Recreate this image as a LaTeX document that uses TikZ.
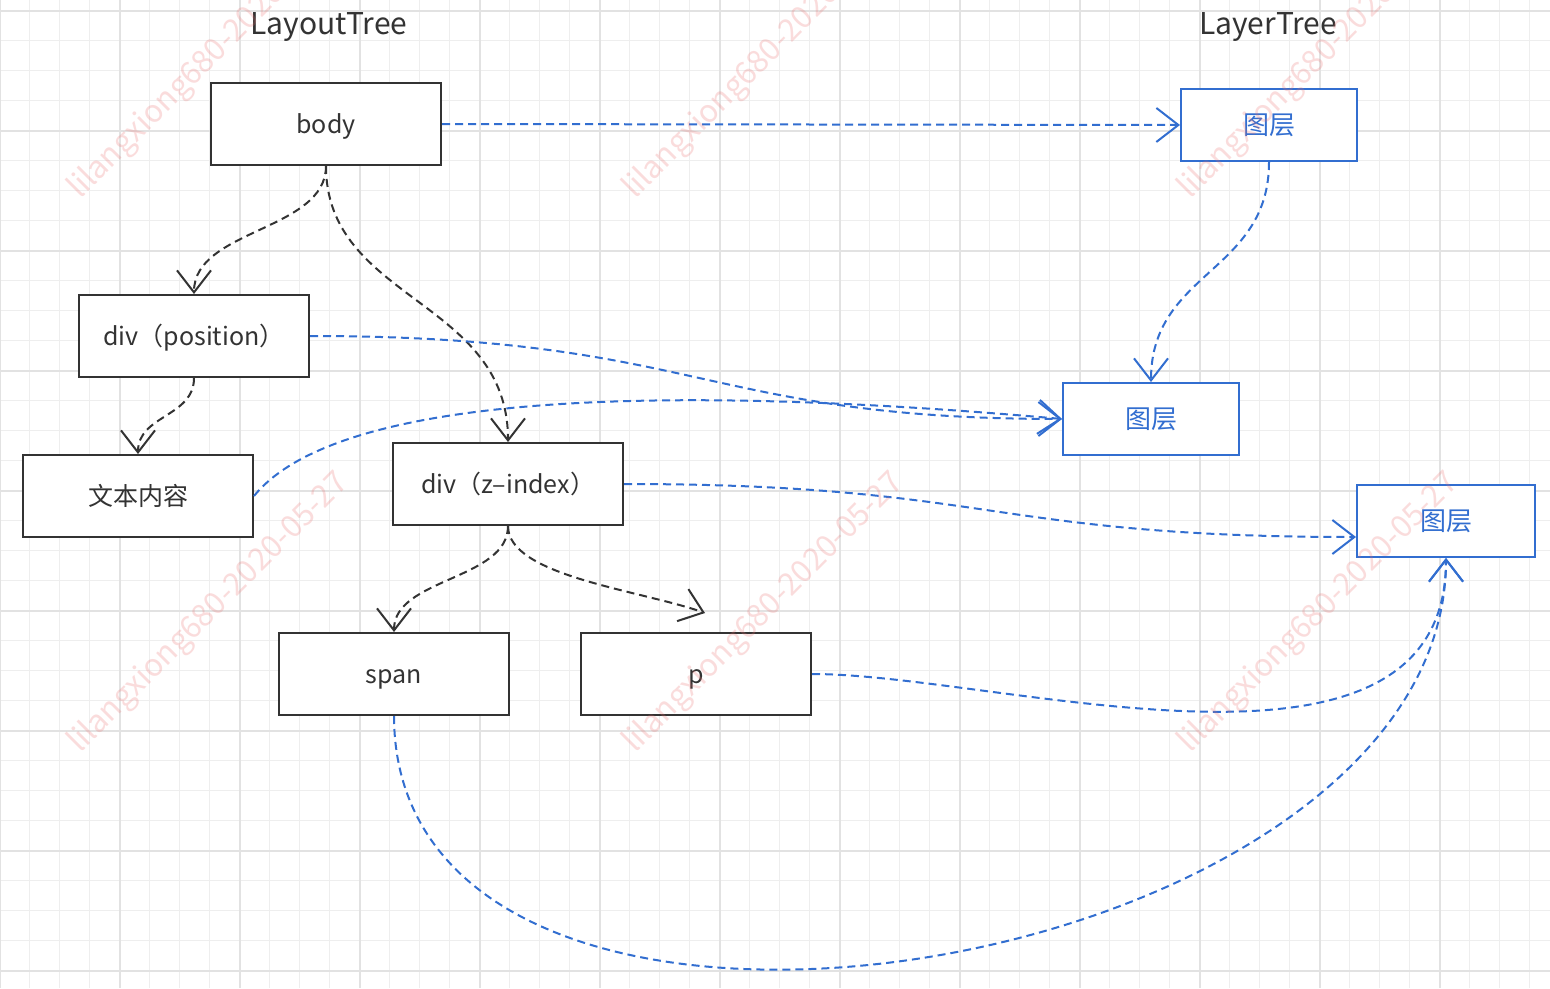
\documentclass[tikz,border=0pt]{standalone}
\usepackage{fontspec}
\setmainfont{Noto Sans CJK SC}
\usetikzlibrary{arrows.meta}
\definecolor{ink}{RGB}{51,51,51}
\definecolor{lblue}{RGB}{50,110,208}
\definecolor{gridminor}{RGB}{238,238,238}
\definecolor{gridmajor}{RGB}{226,226,226}
\definecolor{wmark}{RGB}{235,110,110}

\begin{document}
\begin{tikzpicture}[x=1pt,y=-1pt,
  treebox/.style={draw=ink, line width=2pt, fill=white, minimum width=230pt,
    minimum height=82pt, inner sep=0pt, text=ink, text height=22pt, text depth=4pt,
    font=\fontsize{25}{29}\selectfont},
  layerbox/.style={draw=lblue, line width=2pt, fill=white, minimum width=176pt,
    minimum height=72pt, inner sep=0pt, text=lblue, text height=23pt, text depth=4pt,
    font=\fontsize{26}{30}\selectfont},
  title/.style={text=ink, font=\fontsize{30}{35}\selectfont, inner sep=0pt},
  link/.style={dash pattern=on 8pt off 5pt, line width=2pt,
    -{Straight Barb[length=22pt,width=34pt]}},
  treelink/.style={link, draw=ink},
  layerlink/.style={link, draw=lblue},
  wmtext/.style={text=wmark, text opacity=0.24, rotate=45, anchor=base west,
    inner sep=0pt, font=\fontsize{31}{35}\selectfont}
]
\useasboundingbox (0,0) rectangle (1550,988);
\clip (0,0) rectangle (1550,988);
\fill[white] (0,0) rectangle (1550,988);

% background grid
\foreach \i in {0,...,52} \draw[gridminor, line width=1pt] ({-0.5+30*\i},0) -- ++(0,988);
\foreach \i in {0,...,32} \draw[gridminor, line width=1pt] (0,{10.5+30*\i}) -- ++(1550,0);
\foreach \i in {0,...,13} \draw[gridmajor, line width=2pt] ({-0.5+120*\i},0) -- ++(0,988);
\foreach \i in {0,...,8} \draw[gridmajor, line width=2pt] (0,{10.5+120*\i}) -- ++(1550,0);

% titles
\node[title] (layouttitle) at (329,27) {LayoutTree};
\node[title] (layertitle) at (1268,27) {LayerTree};

% layout tree
\node[treebox] (body)   at (326,124) {body};
\node[treebox] (divpos) at (194,336) {div（position）};
\node[treebox] (text)   at (138,496) {文本内容};
\node[treebox] (divz)   at (508,484) {div（z–index）};
\node[treebox] (span)   at (394,674) {span};
\node[treebox] (p)      at (696,674) {p};

% layer tree
\node[layerbox] (layer1) at (1269,125) {图层};
\node[layerbox] (layer2) at (1151,419) {图层};
\node[layerbox, minimum width=178pt] (layer3) at (1446,521) {图层};

% tree connectors
\coordinate (pin) at (705,613);
\draw[treelink] (body.south) .. controls +(0,65) and +(0,-65) .. (divpos.north);
\draw[treelink] (body.south) .. controls +(0,135) and +(0,-143) .. (divz.north);
\draw[treelink] (divpos.south) .. controls +(0,39) and +(0,-39) .. (text.north);
\draw[treelink] (divz.south) .. controls +(0,54) and +(0,-54) .. (span.north);
\draw[treelink] (divz.south) .. controls +(0,50) and (640,590) .. (pin);

% layer connectors
\coordinate (l3in) at ([yshift=-16pt]layer3.west);
\draw[layerlink] (body.east) -- (layer1.west);
\draw[layerlink] (layer1.south) .. controls +(0,111) and +(0,-111) .. (layer2.north);
\draw[layerlink] (divpos.east) .. controls +(390,0) and +(-360,0) .. (layer2.west);
\draw[layerlink] (text.east) .. controls (340,390) and (680,385) .. (layer2.west);
\draw[layerlink] (divz.east) .. controls +(367,0) and +(-367,0) .. (l3in);
\draw[layerlink] (p.east) .. controls (1000,674) and (1446,812) .. (layer3.south);
\draw[layerlink] (span.south) .. controls (395,1150) and (1446,980) .. (layer3.south);

% watermark
\foreach \wx/\wy in {80/200, 635/200, 1190/200, 80/754, 635/754, 1190/754}
  \node[wmtext] at (\wx,\wy) {lilangxiong680-2020-05-27};
\end{tikzpicture}
\end{document}
